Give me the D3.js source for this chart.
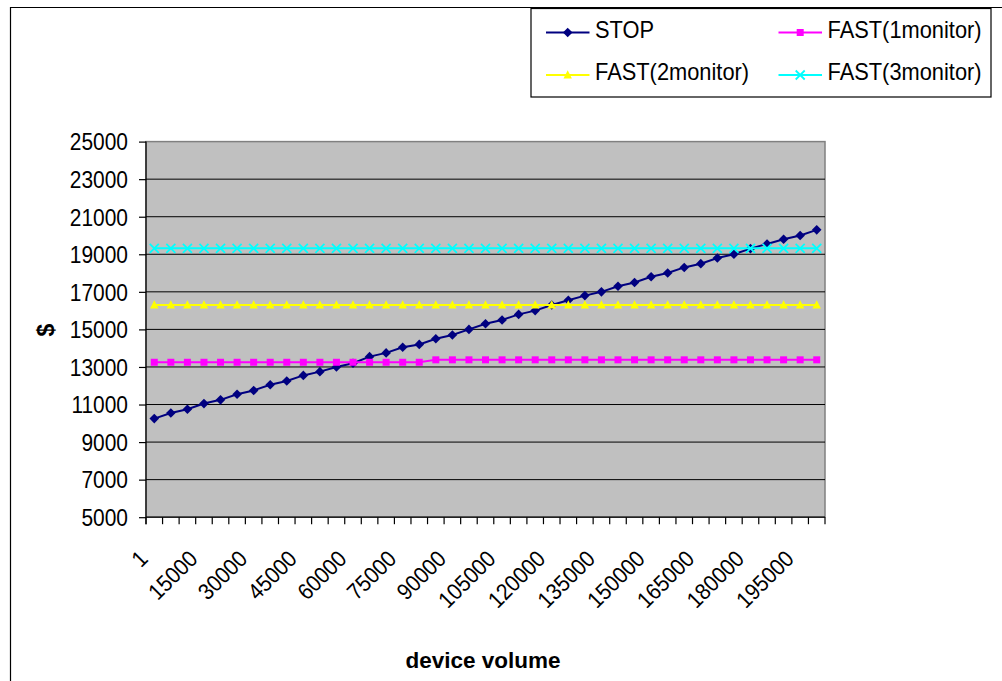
<!DOCTYPE html>
<html><head><meta charset="utf-8">
<script src="https://cdn.jsdelivr.net/npm/d3@7"></script>
<style>html,body{margin:0;padding:0;background:#fff;}svg{display:block;}</style>
</head><body>
<script>
const categories = [1,5000,10000,15000,20000,25000,30000,35000,40000,45000,50000,55000,60000,65000,70000,75000,80000,85000,90000,95000,100000,105000,110000,115000,120000,125000,130000,135000,140000,145000,150000,155000,160000,165000,170000,175000,180000,185000,190000,195000,200000];
const stopValues = [10250,10550,10750,11050,11250,11550,11750,12050,12250,12550,12750,13000,13200,13550,13750,14050,14200,14500,14700,15000,15300,15500,15800,16000,16300,16550,16800,17000,17300,17500,17800,18000,18300,18500,18800,19000,19300,19550,19800,20000,20300];
const fast1Values = [13250,13250,13250,13250,13250,13250,13250,13250,13250,13250,13250,13250,13250,13250,13250,13250,13250,13380,13380,13380,13380,13380,13380,13380,13380,13380,13380,13380,13380,13380,13380,13380,13380,13380,13380,13380,13380,13380,13380,13380,13380];
const fast2Values = [16300,16300,16300,16300,16300,16300,16300,16300,16300,16300,16300,16300,16300,16300,16300,16300,16300,16300,16300,16300,16300,16300,16300,16300,16300,16300,16300,16300,16300,16300,16300,16300,16300,16300,16300,16300,16300,16300,16300,16300,16300];
const fast3Values = [19320,19320,19320,19320,19320,19320,19320,19320,19320,19320,19320,19320,19320,19320,19320,19320,19320,19320,19320,19320,19320,19320,19320,19320,19320,19320,19320,19320,19320,19320,19320,19320,19320,19320,19320,19320,19320,19320,19320,19320,19320];
const seriesNames = ["STOP","FAST(1monitor)","FAST(2monitor)","FAST(3monitor)"];
const yTicks = [5000,7000,9000,11000,13000,15000,17000,19000,21000,23000,25000];
const xLabelCats = [1,15000,30000,45000,60000,75000,90000,105000,120000,135000,150000,165000,180000,195000];
const yTitle = "$";
const xTitle = "device volume";

const W = 1002, H = 681;
const FONT = "'Liberation Sans', Arial, sans-serif";
const svg = d3.select("body").append("svg").attr("width", W).attr("height", H);

const plot = {l:146, r:825, t:141.6, b:517.2};
const x = d3.scaleBand().domain(categories).range([plot.l, plot.r]);
const y = d3.scaleLinear().domain([5000,25000]).range([plot.b, plot.t]);
const cx = c => x(c) + x.bandwidth()/2;

// outer chart border
svg.append("path").attr("d", `M10.5,${H} L10.5,7.5 L${W},7.5`).attr("fill","none").attr("stroke","#000").attr("stroke-width",1.2);

// plot background
svg.append("rect").attr("x",plot.l).attr("y",plot.t).attr("width",plot.r-plot.l).attr("height",plot.b-plot.t)
  .attr("fill","#c0c0c0").attr("stroke","#808080").attr("stroke-width",1.5);

// gridlines
svg.append("g").selectAll("line").data(yTicks.filter(v=>v>5000 && v<25000)).join("line")
  .attr("x1",plot.l).attr("x2",plot.r).attr("y1",d=>y(d)).attr("y2",d=>y(d))
  .attr("stroke","#000").attr("stroke-width",1);

// y axis
const yAxis = d3.axisLeft(y).tickValues(yTicks).tickSize(7).tickPadding(0).tickFormat(d3.format("d"));
const gy = svg.append("g").attr("transform",`translate(${plot.l},0)`).call(yAxis);
gy.select(".domain").attr("d", `M0,${plot.t}V${plot.b+7}`).attr("stroke","#000").attr("stroke-width",1.2);
gy.selectAll(".tick line").attr("stroke","#000").attr("stroke-width",1.2);
gy.selectAll(".tick text").remove();
gy.selectAll(".tick").append("text")
  .attr("text-anchor","end").attr("fill","#000")
  .attr("font-family",FONT).attr("font-size",23)
  .attr("transform","translate(-18,8.3) scale(0.91,1)")
  .text(d=>d3.format("d")(d));

// x axis
const xAxis = d3.axisBottom(x).tickSize(0).tickFormat("");
const gx = svg.append("g").attr("transform",`translate(0,${plot.b})`).call(xAxis);
gx.select(".domain").attr("d", `M${plot.l},0H${plot.r}`).attr("stroke","#000").attr("stroke-width",1.2);
gx.selectAll(".tick text").remove();
// ticks at category boundaries
const boundaries = categories.map(c=>x(c)).concat([plot.r]);
gx.append("g").selectAll("line").data(boundaries).join("line")
  .attr("x1",d=>d).attr("x2",d=>d).attr("y1",0).attr("y2",7)
  .attr("stroke","#000").attr("stroke-width",1.2);
gx.append("g").selectAll("text").data(xLabelCats).join("text")
  .attr("text-anchor","end").attr("fill","#000")
  .attr("font-family",FONT).attr("font-size",23)
  .attr("transform",d=>`translate(${cx(d)-5},43) rotate(-45) scale(0.91,1)`)
  .text(d=>String(d));

// axis titles
svg.append("text").attr("x",483).attr("y",668).attr("text-anchor","middle")
  .attr("font-family",FONT).attr("font-size",22.5).attr("font-weight","bold").text(xTitle);
svg.append("text").attr("transform","translate(54,330) rotate(-90)").attr("text-anchor","middle")
  .attr("font-family",FONT).attr("font-size",23).attr("font-weight","bold").text(yTitle);

// series
const series = [
  {name:seriesNames[0], values:stopValues, color:"#000080", marker:"diamond"},
  {name:seriesNames[1], values:fast1Values, color:"#ff00ff", marker:"square"},
  {name:seriesNames[2], values:fast2Values, color:"#ffff00", marker:"triangle"},
  {name:seriesNames[3], values:fast3Values, color:"#00ffff", marker:"x"}
];
function drawMarker(g, type, color){
  if(type==="diamond"){
    g.append("path").attr("d","M0,-4.8L4.8,0L0,4.8L-4.8,0Z").attr("fill",color);
  } else if(type==="square"){
    g.append("rect").attr("x",-3.5).attr("y",-3.5).attr("width",7).attr("height",7).attr("fill",color);
  } else if(type==="triangle"){
    g.append("path").attr("d","M0,-4.8L4.2,3.4L-4.2,3.4Z").attr("fill",color);
  } else {
    g.append("path").attr("d","M-4.5,-4.5L4.5,4.5M-4.5,4.5L4.5,-4.5").attr("stroke",color).attr("stroke-width",1.8).attr("fill","none");
  }
}
const line = d3.line().x((d,i)=>cx(categories[i])).y(d=>y(d));
series.forEach(s=>{
  const g = svg.append("g");
  g.append("path").datum(s.values).attr("d",line).attr("fill","none").attr("stroke",s.color).attr("stroke-width",2);
  s.values.forEach((v,i)=>{
    const m = g.append("g").attr("transform",`translate(${cx(categories[i])},${y(v)})`);
    drawMarker(m, s.marker, s.color);
  });
});

// legend
const lg = svg.append("g");
lg.append("rect").attr("x",531).attr("y",8.5).attr("width",460).attr("height",88.5)
  .attr("fill","#fff").attr("stroke","#000").attr("stroke-width",1.2);
const legendPos = [
  {x:546, y:32.5}, {x:778.5, y:32.5}, {x:546, y:75}, {x:778.5, y:75}
];
series.forEach((s,i)=>{
  const p = legendPos[i];
  const g = lg.append("g").attr("transform",`translate(${p.x},${p.y})`);
  g.append("line").attr("x1",0).attr("x2",43.5).attr("y1",0).attr("y2",0).attr("stroke",s.color).attr("stroke-width",2);
  drawMarker(g.append("g").attr("transform","translate(21.7,0)"), s.marker, s.color);
  g.append("text").attr("transform","translate(49,5) scale(0.95,1)")
    .attr("font-family",FONT).attr("font-size",23).attr("fill","#000").text(s.name);
});
</script>
</body></html>
